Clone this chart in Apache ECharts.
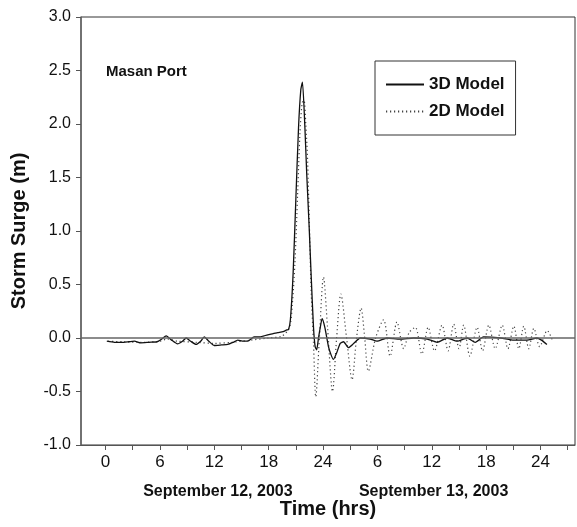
<!DOCTYPE html>
<html>
<head>
<meta charset="utf-8">
<script src="https://cdn.jsdelivr.net/npm/echarts@6/dist/echarts.min.js"></script>
<style>html,body{margin:0;padding:0;background:#fff;}#c{width:577px;height:527px;}</style>
</head>
<body>
<div id="c"></div>
<script>
// Time in hours from 00:00 Sept 12, 2003
const hours3D = [0.15,1.0,2.0,2.6,3.2,3.9,4.8,5.7,6.2,6.7,7.3,7.95,8.5,8.9,9.4,10.0,10.5,10.9,11.4,12.0,12.8,13.5,14.1,14.6,15.2,15.7,16.4,17.0,17.9,18.5,19.0,19.6,20.0,20.2,20.4,20.7,21.0,21.3,21.55,21.73,22.0,22.2,22.47,22.7,22.95,23.13,23.3,23.5,23.7,23.9,24.2,24.6,24.9,25.15,25.5,25.9,26.26,26.8,27.4,28.1,29.2,29.95,31.05,32.5,34.0,35.5,36.6,37.7,38.8,39.9,40.8,41.7,43.6,45.05,46.5,47.6,48.1,48.7];
const surge3D = [-0.03,-0.04,-0.04,-0.035,-0.03,-0.045,-0.04,-0.035,-0.01,0.02,-0.02,-0.055,-0.03,0.0,-0.03,-0.06,-0.03,0.01,-0.03,-0.07,-0.065,-0.06,-0.04,-0.02,-0.03,-0.03,0.01,0.01,0.03,0.04,0.05,0.06,0.075,0.08,0.17,0.6,1.29,1.97,2.32,2.39,1.97,1.54,1.04,0.57,0.1,-0.08,-0.11,0.0,0.1,0.18,0.1,-0.08,-0.16,-0.2,-0.14,-0.05,-0.035,-0.09,-0.05,0.0,-0.01,-0.03,0.0,-0.01,0.0,-0.01,-0.04,0.0,-0.03,0.0,-0.04,0.01,0.0,-0.02,-0.02,0.0,-0.02,-0.06];

const hours2D = [0.3,2.0,4.0,6.0,6.8,8.0,10.0,12.0,14.0,16.0,18.0,19.5,20.3,20.6,20.9,21.2,21.45,21.7,21.9,22.1,22.3,22.5,22.7,22.95,23.2,23.6,24.05,24.5,25.05,25.5,25.97,26.6,27.2,27.7,28.2,28.6,29.0,29.8,30.68,31.4,32.16,32.9,33.5,34.18,34.9,35.6,36.3,37.13,37.8,38.42,39.0,39.52,40.2,41.0,41.6,42.29,43.0,43.77,44.4,45.05,45.6,46.15,46.7,47.26,47.9,48.74,49.3];
const surge2D = [-0.03,-0.035,-0.04,-0.03,-0.01,-0.03,-0.04,-0.05,-0.04,-0.02,0.0,0.02,0.1,0.3,0.7,1.35,1.9,2.2,2.22,2.0,1.66,1.04,0.42,-0.05,-0.55,0.0,0.57,0.1,-0.5,0.0,0.41,0.0,-0.39,0.0,0.28,0.0,-0.31,0.0,0.17,-0.17,0.15,-0.1,0.05,0.1,-0.15,0.1,-0.12,0.12,-0.12,0.13,-0.1,0.12,-0.17,0.1,-0.12,0.12,-0.1,0.12,-0.1,0.11,-0.1,0.11,-0.1,0.09,-0.08,0.07,-0.02];

const xTicks = [0,3,6,9,12,15,18,21,24,27,30,33,36,39,42,45,48,51];
const xLabelHours = [0,6,12,18,24,30,36,42,48];
const dateLabelHours = [12.4, 36.2];
const dateLabels = ['September 12, 2003', 'September 13, 2003'];

const pairs = (xs, ys) => xs.map((x, i) => [x, ys[i]]);
const FONT = '"Liberation Sans", Arial, sans-serif';

const chart = echarts.init(document.getElementById('c'));
chart.setOption({
  animation: false,
  backgroundColor: '#fff',
  title: {
    text: 'Masan Port', left: 106, top: 64, padding: 0,
    textStyle: {fontFamily: FONT, fontSize: 15, fontWeight: 'bold', color: '#111'}
  },
  legend: {
    orient: 'vertical', left: 375, top: 61,
    padding: [15, 11, 15, 10], itemGap: 10, itemWidth: 38, itemHeight: 14,
    borderColor: '#333', borderWidth: 1, backgroundColor: '#fff',
    itemStyle: {opacity: 0},
    textStyle: {fontFamily: FONT, fontSize: 17, fontWeight: 'bold', color: '#111'},
    data: ['3D Model', '2D Model']
  },
  grid: {left: 81, right: 2, top: 17, bottom: 82, show: true, borderColor: '#333', borderWidth: 1},
  xAxis: [{
    type: 'value', min: -2.7, max: 51.8,
    name: 'Time (hrs)', nameLocation: 'middle', nameGap: 54,
    nameTextStyle: {fontFamily: FONT, fontSize: 20, fontWeight: 'bold', color: '#111'},
    axisLine: {show: true, onZero: false, lineStyle: {color: '#555', width: 1}},
    axisTick: {show: true, length: 5, customValues: xTicks, lineStyle: {color: '#555'}},
    axisLabel: {
      customValues: xLabelHours, margin: 9,
      fontFamily: FONT, fontSize: 17, color: '#111',
      formatter: v => String(v === 0 ? 0 : (v <= 24 ? v : v - 24))
    },
    splitLine: {show: false}
  }, {
    type: 'value', min: -2.7, max: 51.8, position: 'bottom', offset: 31,
    axisLine: {show: false, onZero: false}, axisTick: {show: false}, splitLine: {show: false},
    axisLabel: {
      customValues: dateLabelHours,
      fontFamily: FONT, fontSize: 16, fontWeight: 'bold', color: '#111',
      formatter: v => dateLabels[dateLabelHours.indexOf(v)]
    }
  }],
  yAxis: {
    type: 'value', min: -1, max: 3, interval: 0.5,
    name: 'Storm Surge (m)', nameLocation: 'middle', nameGap: 52,
    nameTextStyle: {fontFamily: FONT, fontSize: 20, fontWeight: 'bold', color: '#111'},
    axisLine: {show: true, onZero: false, lineStyle: {color: '#666', width: 1.5}},
    axisTick: {show: true, length: 5, lineStyle: {color: '#555'}},
    axisLabel: {margin: 10, fontFamily: FONT, fontSize: 16, color: '#111', formatter: v => v.toFixed(1)},
    splitLine: {show: false}
  },
  series: [{
    name: '3D Model', type: 'line', data: pairs(hours3D, surge3D),
    showSymbol: false, symbol: 'none', smooth: 0.2,
    lineStyle: {color: '#111', width: 1.3, type: 'solid'},
    itemStyle: {color: '#111'},
    markLine: {
      silent: true, symbol: 'none', label: {show: false},
      lineStyle: {color: '#666', width: 1.5, type: 'solid'},
      data: [{yAxis: 0}]
    },
    z: 3
  }, {
    name: '2D Model', type: 'line', data: pairs(hours2D, surge2D),
    showSymbol: false, symbol: 'none', smooth: 0.3,
    lineStyle: {color: '#444', width: 1.2, type: [1.2, 2.8]},
    itemStyle: {color: '#444'},
    z: 2
  }]
});
</script>
</body>
</html>
